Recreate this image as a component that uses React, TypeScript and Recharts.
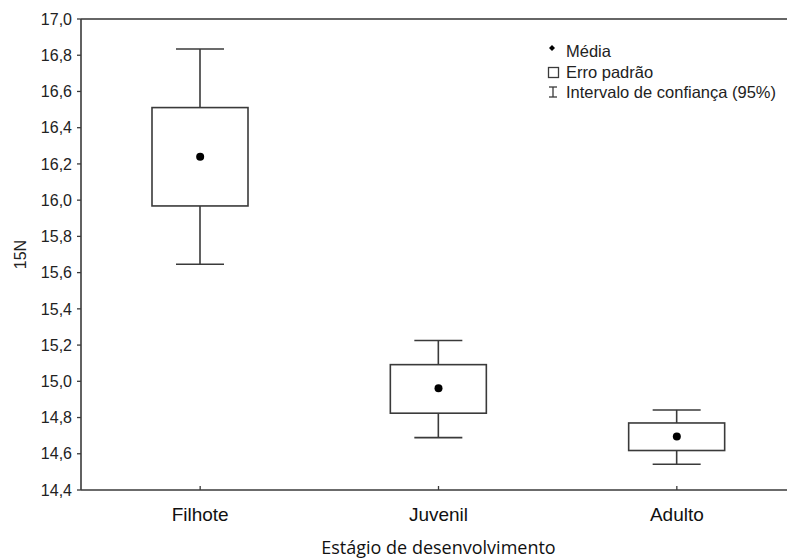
import React from 'react';
import { ComposedChart, Bar, Scatter, XAxis, YAxis, ReferenceLine } from 'recharts';

const stages = ['Filhote', 'Juvenil', 'Adulto'];
const means = [16.24, 14.962, 14.695];
const seLow = [15.968, 14.824, 14.618];
const seHigh = [16.511, 15.092, 14.77];
const ciLow = [15.646, 14.689, 14.542];
const ciHigh = [16.834, 15.225, 14.842];
const yTicks = [14.4, 14.6, 14.8, 15.0, 15.2, 15.4, 15.6, 15.8, 16.0, 16.2, 16.4, 16.6, 16.8, 17.0];
const legendLabels = ['Média', 'Erro padrão', 'Intervalo de confiança (95%)'];

const data = stages.map((name, i) => ({
  name,
  mean: means[i],
  ci: [ciLow[i], ciHigh[i]],
  se: [seLow[i], seHigh[i]],
}));

const FONT = '"Liberation Sans", Arial, sans-serif';
const LINE = '#3a3a3a';

// box (standard error) + whiskers (95% CI), placed inside the range bar's pixels
const BoxShape = (props: any) => {
  const { x, y, width, height, payload } = props;
  const top = Math.min(y, y + height);
  const h = Math.abs(height);
  const [lo, hi] = payload.ci;
  const [sLo, sHi] = payload.se;
  const toY = (v: number) => top + ((hi - v) / (hi - lo)) * h;
  const cx = x + width / 2;
  const cap = width / 4;
  const bTop = toY(sHi);
  const bBot = toY(sLo);
  return (
    <g stroke={LINE} strokeWidth={1.6} fill="none">
      <line x1={cx} y1={top} x2={cx} y2={bTop} />
      <line x1={cx} y1={bBot} x2={cx} y2={top + h} />
      <line x1={cx - cap} y1={top} x2={cx + cap} y2={top} />
      <line x1={cx - cap} y1={top + h} x2={cx + cap} y2={top + h} />
      <rect x={x} y={bTop} width={width} height={bBot - bTop} fill="#fff" />
    </g>
  );
};

const MeanDot = (props: any) => <circle cx={props.cx} cy={props.cy} r={4} fill="#000" />;

const YLabel = (props: any) => {
  const vb = props.viewBox || { x: 0, y: 0, height: 0 };
  const lx = vb.x + 20;
  const ly = vb.y + vb.height / 2;
  return (
    <text x={lx} y={ly} transform={`rotate(-90 ${lx} ${ly})`} textAnchor="middle" dominantBaseline="central"
      fontFamily={FONT} fontSize={16} fill="#222">
      15N
    </text>
  );
};

const Legend = () => (
  <svg width={247} height={70} style={{ position: 'absolute', left: 540, top: 38 }}>
    <g fontFamily={FONT} fontSize={16.5} fill="#222">
      <path d="M12 7 L15 10 L12 13 L9 10 Z" fill="#000" />
      <rect x={8.5} y={29.5} width={10} height={10} fill="none" stroke={LINE} strokeWidth={1.3} />
      <g stroke={LINE} strokeWidth={1.3}>
        <line x1={13} y1={49} x2={13} y2={59} />
        <line x1={9} y1={49} x2={17} y2={49} />
        <line x1={9} y1={59} x2={17} y2={59} />
      </g>
      {legendLabels.map((t, i) => (
        <text key={t} x={26} y={19 + i * 20.5}>{t}</text>
      ))}
    </g>
  </svg>
);

export default function App() {
  return (
    <div style={{ position: 'fixed', left: 0, top: 0, width: 787, height: 560, overflow: 'hidden', background: '#fff' }}>
      <ComposedChart width={797} height={560} data={data} margin={{ top: 19, right: 1, bottom: 0, left: 0 }}>
        <XAxis xAxisId="top" orientation="top" dataKey="name" height={0} tick={false}
          tickSize={-3} axisLine={false} tickLine={{ stroke: LINE, strokeWidth: 1.3 }} />
        <XAxis dataKey="name" height={70} tickSize={-4} tickMargin={22}
          axisLine={{ stroke: LINE, strokeWidth: 1.6 }} tickLine={{ stroke: LINE, strokeWidth: 1.3 }}
          tick={{ fontFamily: FONT, fontSize: 19, fill: '#111' }}
          label={{ value: 'Estágio de desenvolvimento', position: 'insideBottom', offset: 6,
            style: { fontFamily: '"Open Sans", sans-serif', fontSize: 18, fill: '#111' } }} />
        <YAxis type="number" domain={[14.4, 17]} ticks={yTicks} width={81} tickSize={4} tickMargin={5}
          interval={0} allowDataOverflow
          tickFormatter={(v: number) => v.toFixed(1).replace('.', ',')}
          axisLine={{ stroke: LINE, strokeWidth: 1.6 }} tickLine={{ stroke: LINE, strokeWidth: 1.3 }}
          tick={{ fontFamily: FONT, fontSize: 16, fill: '#222' }}
          label={{ content: YLabel }} />
        <ReferenceLine y={17} stroke="#666" strokeWidth={2} />
        <Bar dataKey="ci" barSize={96} shape={BoxShape} isAnimationActive={false} />
        <Scatter dataKey="mean" shape={MeanDot} isAnimationActive={false} />
      </ComposedChart>
      <Legend />
    </div>
  );
}
